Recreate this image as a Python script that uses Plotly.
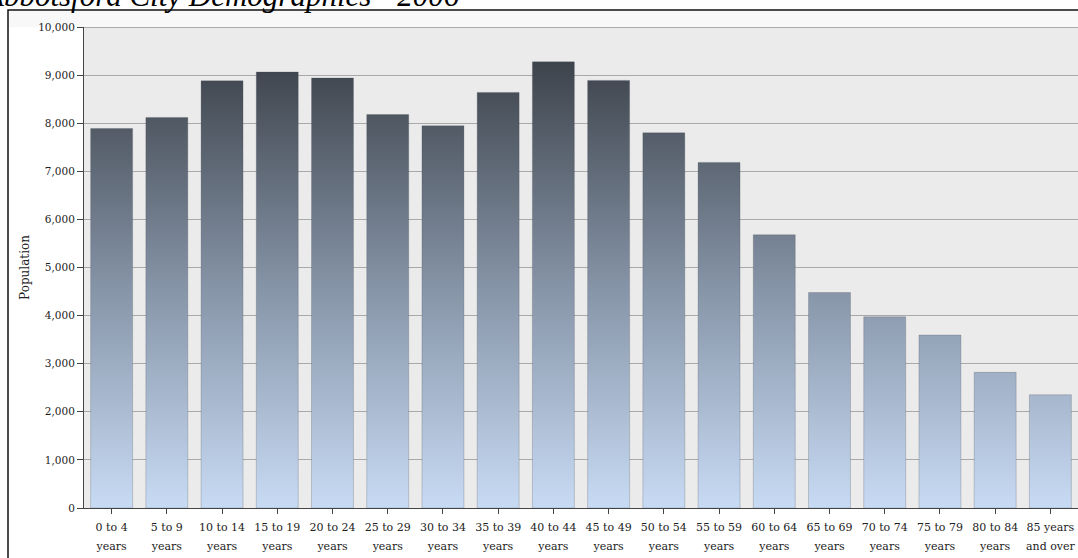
import plotly.graph_objects as go

# ---- data ----
cat_line1 = ["0 to 4", "5 to 9", "10 to 14", "15 to 19", "20 to 24", "25 to 29", "30 to 34",
             "35 to 39", "40 to 44", "45 to 49", "50 to 54", "55 to 59", "60 to 64", "65 to 69",
             "70 to 74", "75 to 79", "80 to 84", "85 years"]
cat_line2 = ["years"] * 17 + ["and over"]
population = [7890, 8120, 8880, 9065, 8940, 8180, 7945, 8640, 9275, 8890,
              7800, 7185, 5680, 4480, 3975, 3595, 2820, 2355]
y_tickvals = [0, 1000, 2000, 3000, 4000, 5000, 6000, 7000, 8000, 9000, 10000]
y_ticktext = ["0", "1,000", "2,000", "3,000", "4,000", "5,000", "6,000", "7,000", "8,000", "9,000", "10,000"]
title_text = "Abbotsford City Demographics - 2006"
y_title = "Population"

W, H = 1078, 558
ML, MR, MT, MB = 84, 0, 27, 50
PW, PH = W - ML - MR, H - MT - MB
BAR_W = 0.76
LBL = "DejaVu Serif"

categories = ["<span style='font-size:11px'>%s</span><br><span style='font-size:11px'>%s</span>" % (a, b)
              for a, b in zip(cat_line1, cat_line2)]

# bars as filled shapes with a vertical gradient (global on the y axis)
xs, ys = [], []
for i, v in enumerate(population):
    x0, x1 = i - BAR_W / 2, i + BAR_W / 2
    xs += [x0, x0, x1, x1, x0, None]
    ys += [0, v, v, 0, 0, None]

fig = go.Figure()
fig.add_trace(go.Scatter(
    x=xs, y=ys, mode="lines", fill="toself",
    line=dict(color="rgba(70,76,86,0.25)", width=1),
    fillgradient=dict(type="vertical", start=0, stop=9300,
                      colorscale=[[0, "#C8DBF4"], [0.5, "#8593A6"], [1, "#3D434B"]]),
    hoverinfo="skip", showlegend=False,
))

def px_to_paper_x(px):
    return (px - ML) / PW

def px_to_paper_y(py):
    return (H - MB - py) / PH

fig.update_layout(
    width=W, height=H,
    margin=dict(l=ML, r=MR, t=MT, b=MB, pad=0),
    paper_bgcolor="white",
    plot_bgcolor="#EBEBEB",
    showlegend=False,
    font=dict(family=LBL, size=10, color="#222"),
    xaxis=dict(
        range=[-0.5, len(categories) - 0.5],
        tickvals=list(range(len(categories))),
        ticktext=categories,
        showgrid=False, zeroline=False,
        showline=True, linecolor="#444", linewidth=1,
        ticks="outside", ticklen=5, tickcolor="#444",
        tickfont=dict(family=LBL, size=14.5, color="#222"),
        fixedrange=True,
    ),
    yaxis=dict(
        range=[0, 10000],
        tickvals=y_tickvals, ticktext=y_ticktext,
        showgrid=True, gridcolor="#A9A9A9", gridwidth=1,
        zeroline=False,
        showline=True, linecolor="#444", linewidth=1,
        ticks="outside", ticklen=6, tickcolor="#444",
        tickfont=dict(family=LBL, size=10.5, color="#222"),
        title=dict(text=y_title, font=dict(family=LBL, size=12, color="#222"), standoff=5),
        fixedrange=True,
    ),
    shapes=[
        dict(type="rect", xref="paper", yref="paper",
             x0=px_to_paper_x(8), x1=px_to_paper_x(W + 5),
             y0=px_to_paper_y(H + 5), y1=px_to_paper_y(10),
             line=dict(color="#111", width=1.5), fillcolor="rgba(0,0,0,0)", layer="above"),
        dict(type="rect", xref="paper", yref="paper",
             x0=px_to_paper_x(9), x1=1, y0=1, y1=px_to_paper_y(11),
             line=dict(width=0), fillcolor="#F8F8F8", layer="below"),
        dict(type="line", xref="paper", yref="y", x0=0, x1=1, y0=10000, y1=10000,
             line=dict(color="#6E6E6E", width=1), layer="above"),
    ],
    annotations=[
        dict(text="<i>" + title_text + "</i>", xref="paper", yref="paper",
             x=px_to_paper_x(-19), y=px_to_paper_y(15.5), xanchor="left", yanchor="bottom",
             showarrow=False, font=dict(family="Liberation Serif", size=31, color="black")),
    ],
)

fig.write_html("out.html")
